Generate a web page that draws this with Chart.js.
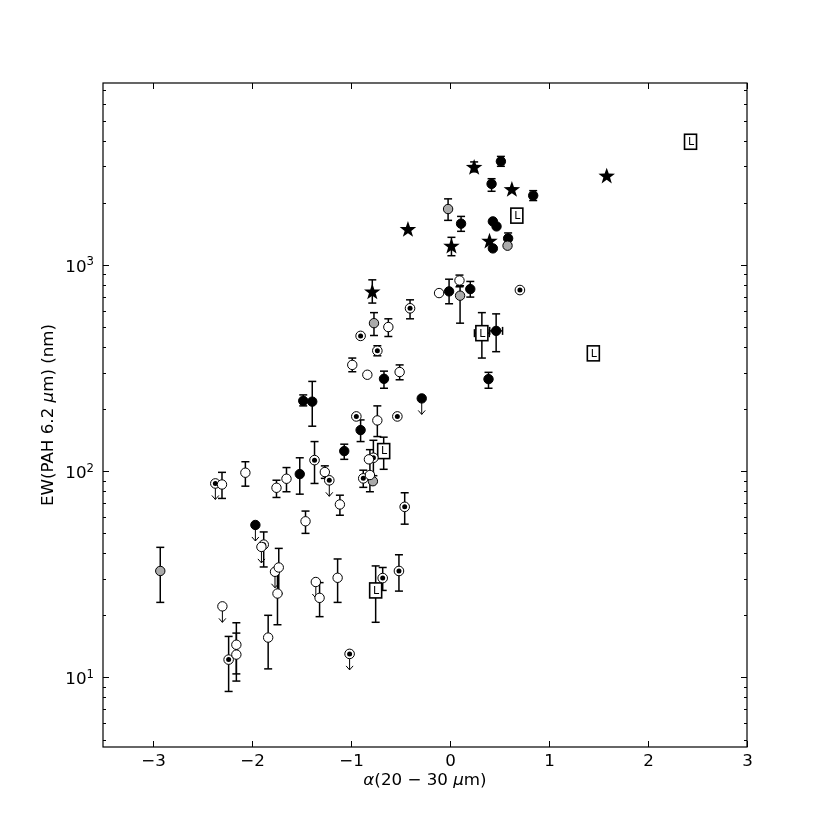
<!DOCTYPE html>
<html lang="en">
<head>
<meta charset="UTF-8">
<title>EW(PAH 6.2 um) vs alpha(20-30 um)</title>
<script src="https://cdn.jsdelivr.net/npm/chart.js"></script>
<style>
  body { margin: 0; background: #fff; }
  .chart-box { width: 830px; height: 830px; }
</style>
</head>
<body>

<div class="chart-box"><canvas id="pahChart"></canvas></div>

<script>
  // rows: [alpha, EW, EW low, EW high, alpha error]  (null = no bar)
  const blackPts = [
    [0.516, 3170, 3000, 3350], [0.422, 2465, 2270, 2612], [0.842, 2163, 2047, 2286],
    [0.114, 1581, 1452, 1715], [0.435, 1622, null, null], [0.472, 1534, null, null],
    [0.589, 1342, 1260, 1426], [0.435, 1200, null, null], [-0.007, 743, 647, 851],
    [0.207, 762, 697, 830], [0.468, 478, 379, 578, 0.065], [-0.664, 280, 252, 305],
    [0.391, 279, 252, 301], [-1.479, 219, 207, 234], [-1.388, 217, 165, 272],
    [-0.900, 158, 139, 177], [-1.065, 125, 114, 135], [-1.514, 96.7, 77.3, 116]
  ];
  const blackLimits = [[-0.283, 225], [-1.962, 54.8]];

  const greyPts = [
    [-0.017, 1862, 1641, 2086], [0.583, 1237, null, null], [0.104, 708, 521, 791],
    [-0.765, 521, 454, 586], [-0.776, 89.3, null, null], [-2.922, 32.8, 23.1, 42.7]
  ];

  const openPts = [
    [-0.108, 729, null, null], [0.098, 839, 782, 891], [-0.620, 499, 449, 547],
    [-0.984, 327, 303, 353], [-0.832, 293, null, null], [-0.506, 302, 277, 327],
    [-0.731, 176, 147, 207], [-0.816, 114, null, null], [-0.806, 95.7, 79.4, 127],
    [-1.261, 98.9, 92.2, 106], [-1.648, 91.8, 79.4, 104], [-1.749, 83.0, 74.5, 90.3],
    [-2.063, 98.2, 84.5, 111], [-2.299, 86.1, 73.7, 98.6], [-1.109, 68.9, 61.1, 76.4],
    [-1.456, 57.1, 49.9, 64.0], [-1.726, 34.1, 25.5, 42.2], [-1.739, 25.5, 18.0, 34.1],
    [-2.154, 14.4, 10.4, 16.4], [-2.154, 12.9, 9.6, 18.4], [-1.833, 15.6, 11.0, 20.0],
    [-1.314, 24.3, 19.7, 28.8], [-1.132, 30.4, 23.1, 37.5]
  ];
  const openLimits = [[-1.901, 42.9], [-1.764, 32.5], [-2.295, 22.1], [-1.352, 29.0]];

  const dotPts = [
    [0.708, 754, null, null], [-0.401, 615, 547, 676], [-0.900, 452, null, null],
    [-0.731, 383, 362, 405], [-0.943, 184, null, null], [-0.529, 184, null, null],
    [-0.771, 116, 95, 141], [-0.873, 92.2, 83.4, 101], [-1.365, 113, 87.1, 139],
    [-0.455, 67.1, 55.3, 78.5], [-1.878, 44.0, 34.3, 50.7], [-2.232, 12.2, 8.55, 15.8],
    [-0.677, 30.3, 26.4, 34.1], [-0.513, 32.8, 26.2, 39.3]
  ];
  const dotLimits = [[-1.216, 90.2], [-2.366, 87.1], [-1.011, 13.0]];

  const starPts = [
    [0.246, 2980, 2820, 3150], [0.627, 2328, null, null], [-0.422, 1490, null, null],
    [0.017, 1237, 1106, 1358], [0.401, 1308, null, null], [-0.782, 742, 652, 845],
    [1.584, 2705, null, null]
  ];

  const lboxPts = [
    [2.430, 3945, null, null], [0.677, 1730, null, null], [0.324, 466, 353, 586, 0.075],
    [1.449, 372, null, null], [-0.667, 125, 102, 146], [-0.748, 26.4, 18.5, 34.7]
  ];

  const xTicks = [-3, -2, -1, 0, 1, 2, 3];
  const yTicks = [10, 100, 1000];
  const FONT = "'DejaVu Sans', sans-serif";

  function toXY(rows) { return rows.map(r => ({ x: r[0], y: r[1] })); }

  function circleSet(rows, fill, limit) {
    return {
      data: toXY(rows), rows: rows, limit: limit,
      pointStyle: 'circle', pointRadius: 4.7,
      backgroundColor: fill, borderColor: '#000', borderWidth: 1
    };
  }
  // marker drawn by the markers plugin at the library's point positions
  function customSet(rows, kind, limit) {
    return { data: toXY(rows), rows: rows, limit: limit, kind: kind, pointRadius: 0 };
  }

  const shapes = {
    dot(ctx, x, y) {
      ctx.beginPath(); ctx.arc(x, y, 4.8, 0, Math.PI * 2);
      ctx.fillStyle = '#fff'; ctx.fill();
      ctx.lineWidth = 1; ctx.strokeStyle = '#000'; ctx.stroke();
      ctx.beginPath(); ctx.arc(x, y, 2.5, 0, Math.PI * 2);
      ctx.fillStyle = '#000'; ctx.fill();
    },
    star(ctx, x, y) {
      ctx.beginPath();
      for (let i = 0; i < 10; i++) {
        const r = i % 2 ? 3.5 : 8.7;
        const a = -Math.PI / 2 + i * Math.PI / 5;
        ctx.lineTo(x + r * Math.cos(a), y + 0.8 + r * Math.sin(a));
      }
      ctx.closePath();
      ctx.fillStyle = '#000'; ctx.fill();
    },
    lbox(ctx, x, y) {
      ctx.fillStyle = '#fff';
      ctx.fillRect(x - 6, y - 7.5, 12, 15);
      ctx.lineWidth = 1.6; ctx.strokeStyle = '#000';
      ctx.strokeRect(x - 6, y - 7.5, 12, 15);
      ctx.fillStyle = '#000';
      ctx.font = '11px ' + FONT;
      ctx.textAlign = 'center'; ctx.textBaseline = 'middle';
      ctx.fillText('L', x + 0.5, y + 0.5);
    }
  };

  const markers = {
    id: 'markers',
    afterDatasetDraw(chart, args) {
      const ds = chart.data.datasets[args.index];
      if (!ds.kind) return;
      const ctx = chart.ctx;
      ctx.save();
      args.meta.data.forEach(pt => shapes[ds.kind](ctx, pt.x, pt.y));
      ctx.restore();
    }
  };

  // error bars and upper-limit arrows, drawn under the markers
  const errorBars = {
    id: 'errorBars',
    beforeDatasetsDraw(chart) {
      const { ctx, scales: { x, y } } = chart;
      ctx.save();
      ctx.strokeStyle = '#000';
      const seg = (a, b, c, d) => { ctx.beginPath(); ctx.moveTo(a, b); ctx.lineTo(c, d); ctx.stroke(); };
      chart.data.datasets.forEach(ds => {
        ds.rows.forEach(r => {
          const cx = x.getPixelForValue(r[0]), cy = y.getPixelForValue(r[1]);
          ctx.lineWidth = 1.5;
          if (r[2] != null) {
            const y0 = y.getPixelForValue(r[2]), y1 = y.getPixelForValue(r[3]);
            seg(cx, y0, cx, y1); seg(cx - 4, y0, cx + 4, y0); seg(cx - 4, y1, cx + 4, y1);
          }
          if (r[4]) {
            const x0 = x.getPixelForValue(r[0] - r[4]), x1 = x.getPixelForValue(r[0] + r[4]);
            seg(x0, cy, x1, cy); seg(x0, cy - 4, x0, cy + 4); seg(x1, cy - 4, x1, cy + 4);
          }
          if (ds.limit) {
            ctx.lineWidth = 1;
            seg(cx, cy, cx, cy + 16);
            seg(cx - 3.5, cy + 12, cx, cy + 16); seg(cx + 3.5, cy + 12, cx, cy + 16);
          }
        });
      });
      ctx.restore();
    }
  };

  function drawParts(ctx, parts, cx, by) {
    let total = 0;
    parts.forEach(p => { ctx.font = p[1]; total += ctx.measureText(p[0]).width; });
    let px = cx - total / 2;
    ctx.textAlign = 'left';
    parts.forEach(p => { ctx.font = p[1]; ctx.fillText(p[0], px, by); px += ctx.measureText(p[0]).width; });
  }

  // frame, inward ticks, tick labels and axis titles
  const axesDeco = {
    id: 'axesDeco',
    afterDraw(chart) {
      const { ctx, chartArea: a, scales: { x, y } } = chart;
      ctx.save();
      ctx.strokeStyle = '#000';
      ctx.fillStyle = '#000';
      ctx.lineWidth = 1.2;
      ctx.strokeRect(a.left, a.top, a.right - a.left, a.bottom - a.top);
      ctx.lineWidth = 1;
      const seg = (p, q, r, s) => { ctx.beginPath(); ctx.moveTo(p, q); ctx.lineTo(r, s); ctx.stroke(); };

      ctx.font = '16.7px ' + FONT;
      ctx.textAlign = 'center';
      ctx.textBaseline = 'alphabetic';
      xTicks.forEach(t => {
        const px = Math.round(x.getPixelForValue(t)) + 0.5;
        seg(px, a.bottom, px, a.bottom - 6);
        seg(px, a.top, px, a.top + 6);
        ctx.fillText(t < 0 ? '\u2212' + Math.abs(t) : String(t), px, a.bottom + 19);
      });

      for (let d = 1; d <= 1000; d *= 10) {
        for (let m = 1; m <= 9; m++) {
          const v = d * m;
          if (v < y.min || v > y.max) continue;
          const py = Math.round(y.getPixelForValue(v)) + 0.5;
          const len = m === 1 ? 6 : 3;
          seg(a.left, py, a.left + len, py);
          seg(a.right, py, a.right - len, py);
        }
      }
      yTicks.forEach(t => {
        const py = y.getPixelForValue(t);
        const sup = String(Math.round(Math.log10(t)));
        ctx.font = '11.7px ' + FONT;
        const sw = ctx.measureText(sup).width;
        ctx.textAlign = 'right';
        ctx.fillText(sup, a.left - 9, py + 0.5);
        ctx.font = '16.7px ' + FONT;
        ctx.fillText('10', a.left - 9 - sw, py + 7);
      });

      ctx.textBaseline = 'alphabetic';
      const n = '16.7px ' + FONT, it = 'italic 16.7px ' + FONT;
      drawParts(ctx, [['\u03b1', it], ['(20 \u2212 30 ', n], ['\u03bc', it], ['m)', n]], 425, 785);

      ctx.translate(53, 415);
      ctx.rotate(-Math.PI / 2);
      drawParts(ctx, [['EW(PAH 6.2 ', n], ['\u03bc', it], ['m) (nm)', n]], 0, 0);
      ctx.restore();
    }
  };

  new Chart(document.getElementById('pahChart'), {
    type: 'scatter',
    data: {
      datasets: [
        circleSet(openPts, '#fff', false),
        circleSet(openLimits.map(r => [r[0], r[1], null, null]), '#fff', true),
        customSet(dotPts, 'dot', false),
        customSet(dotLimits.map(r => [r[0], r[1], null, null]), 'dot', true),
        circleSet(greyPts, '#aaaaaa', false),
        circleSet(blackPts, '#000', false),
        circleSet(blackLimits.map(r => [r[0], r[1], null, null]), '#000', true),
        customSet(starPts, 'star', false),
        customSet(lboxPts, 'lbox', false)
      ]
    },
    options: {
      responsive: true,
      maintainAspectRatio: false,
      animation: false,
      layout: { padding: { left: 103, right: 83, top: 83, bottom: 83 } },
      plugins: { legend: { display: false }, tooltip: { enabled: false } },
      scales: {
        x: { type: 'linear', min: -3.5, max: 3, display: false },
        y: { type: 'logarithmic', min: 4.6, max: 7600, display: false }
      }
    },
    plugins: [errorBars, markers, axesDeco]
  });
</script>

</body>
</html>
